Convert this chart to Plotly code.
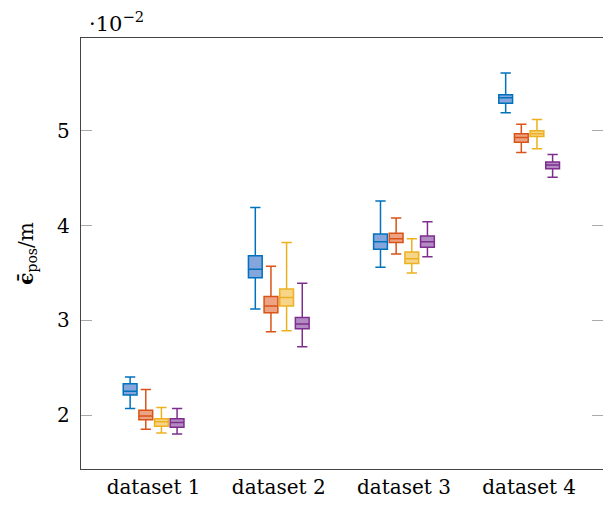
import plotly.graph_objects as go

datasets = ["dataset 1", "dataset 2", "dataset 3", "dataset 4"]
group_pos = [1, 2, 3, 4]
series_names = ["method A", "method B", "method C", "method D"]
offsets = [-0.1875, -0.0625, 0.0625, 0.1875]

# values in units of 1e-2 m
upper = [
    [2.40, 4.19, 4.26, 5.61],
    [2.27, 3.57, 4.08, 5.07],
    [2.08, 3.82, 3.86, 5.12],
    [2.07, 3.39, 4.04, 4.75],
]
q3 = [
    [2.33, 3.68, 3.91, 5.38],
    [2.05, 3.25, 3.92, 4.97],
    [1.96, 3.33, 3.72, 5.00],
    [1.96, 3.03, 3.89, 4.67],
]
median = [
    [2.25, 3.54, 3.83, 5.35],
    [1.99, 3.15, 3.86, 4.93],
    [1.93, 3.24, 3.65, 4.97],
    [1.92, 2.96, 3.83, 4.64],
]
q1 = [
    [2.21, 3.45, 3.75, 5.29],
    [1.95, 3.08, 3.82, 4.88],
    [1.88, 3.15, 3.60, 4.94],
    [1.87, 2.91, 3.77, 4.60],
]
lower = [
    [2.07, 3.12, 3.56, 5.19],
    [1.85, 2.88, 3.70, 4.77],
    [1.81, 2.89, 3.50, 4.81],
    [1.80, 2.72, 3.67, 4.51],
]
y_ticks = [2, 3, 4, 5]

line_colors = ["#0072BD", "#D95319", "#EDB120", "#7E2F8E"]
fill_colors = ["rgba(110,150,215,0.85)", "rgba(230,140,100,0.8)",
               "rgba(245,205,115,0.85)", "rgba(160,110,180,0.8)"]

FONT = "DejaVu Serif"

fig = go.Figure()
for i in range(4):
    xs = [g + offsets[i] for g in group_pos]
    fig.add_trace(go.Box(
        x=xs, q1=q1[i], median=median[i], q3=q3[i],
        lowerfence=lower[i], upperfence=upper[i],
        name=series_names[i], width=0.11, whiskerwidth=0.75,
        line=dict(color=line_colors[i], width=1.5),
        fillcolor=fill_colors[i], showlegend=False, boxpoints=False,
    ))

# invisible trace for the right-hand axis
fig.add_trace(go.Scatter(x=[group_pos[0]], y=[y_ticks[0]], yaxis="y2",
                         mode="markers", marker=dict(opacity=0),
                         showlegend=False, hoverinfo="skip"))

yr = [1.43, 5.98]
fig.update_layout(
    width=603, height=498,
    margin=dict(l=73, r=8, t=30, b=37),
    plot_bgcolor="white", paper_bgcolor="white",
    boxmode="overlay",
    font=dict(family=FONT, size=20, color="black"),
    xaxis=dict(range=[0.42, 4.59], tickvals=group_pos, ticktext=datasets,
               showgrid=False, zeroline=False, ticks="",
               showline=True, linecolor="#444", linewidth=1.3, mirror=True,
               tickfont=dict(family=FONT, size=20, color="black"), automargin=False),
    yaxis=dict(range=yr, tickvals=y_ticks, ticktext=[str(v) for v in y_ticks],
               showgrid=False, zeroline=False, ticks="inside", ticklen=11,
               tickcolor="#aaa", tickwidth=1.3,
               showline=True, linecolor="#444", linewidth=1.3, mirror=True,
               tickfont=dict(family=FONT, size=20, color="black"), ticklabelstandoff=6,
               title=dict(text="<b>ϵ̄</b><sub>pos</sub>/m",
                          font=dict(family=FONT, size=20, color="black"), standoff=18),
               automargin=False),
    yaxis2=dict(range=yr, tickvals=y_ticks, overlaying="y", side="right",
                showticklabels=False, showgrid=False, zeroline=False,
                ticks="inside", ticklen=11, tickcolor="#aaa", tickwidth=1.3,
                showline=False, automargin=False),
    annotations=[dict(text="·10<sup>−2</sup>", xref="paper", yref="paper",
                      x=0.012, y=1.0, xanchor="left", yanchor="bottom",
                      yshift=0, showarrow=False,
                      font=dict(family=FONT, size=21, color="black"))],
)

fig.write_html("out.html")
